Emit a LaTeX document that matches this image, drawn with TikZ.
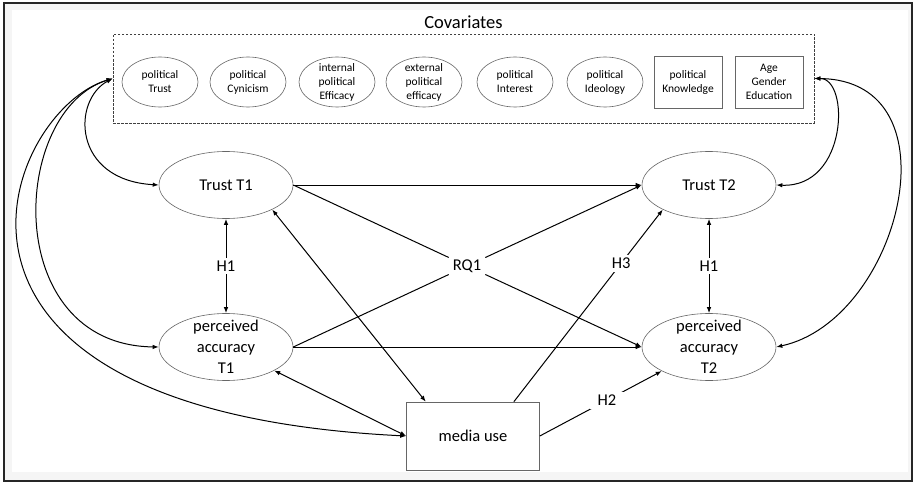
\documentclass[tikz,border=0pt]{standalone}
\usepackage{fontspec}
\setmainfont{Carlito}
\usetikzlibrary{arrows.meta,positioning,shapes.geometric}

\begin{document}
\begin{tikzpicture}[x=1pt,y=-1pt,
>={Latex[length=6pt,width=4.5pt]},
covell/.style={ellipse,draw=black!60,line width=.6pt,minimum width=76pt,minimum height=50pt,inner xsep=0pt,inner ysep=-4pt,align=center,font=\fontsize{11.5}{14}\selectfont},
covrect/.style={rectangle,draw=black!60,line width=.6pt,minimum width=68pt,minimum height=52pt,inner sep=0pt,align=center,font=\fontsize{11.5}{14}\selectfont},
latent/.style={ellipse,draw=black!60,line width=.6pt,minimum width=134pt,minimum height=67pt,inner xsep=0pt,inner ysep=-8pt,align=center,font=\fontsize{16.5}{21}\selectfont},
manifest/.style={rectangle,draw=black!60,line width=.6pt,minimum width=133pt,minimum height=68pt,align=center,font=\fontsize{16.5}{21}\selectfont},
hyp/.style={fill=white,inner sep=3pt,font=\fontsize{16.5}{21}\selectfont},
conn/.style={line width=1pt}]
\useasboundingbox (0,0) rectangle (917,484);
\draw[line width=1.2pt,black!85,fill=black!4] (4,3) rectangle (912,481);
\fill[white] (12,10) rectangle (908,472);

\node[draw=black!75,dash pattern=on 2.5pt off 1.5pt,line width=.7pt,minimum width=701pt,minimum height=89pt] (cov) at (463.5,78.5) {};
\node[font=\fontsize{18.5}{22}\selectfont] (covtitle) at (463.5,22) {Covariates};
\node[covell] (ptrust) at (160,82) {political\\Trust};
\node[covell] (pcyn) at (248,82) {political\\Cynicism};
\node[covell] (ieff) at (337,82) {internal\\political\\Efficacy};
\node[covell] (eeff) at (424,82) {external\\political\\efficacy};
\node[covell] (pint) at (515,82) {political\\Interest};
\node[covell] (pideo) at (605,82) {political\\Ideology};
\node[covrect] (pknow) at (688,82) {political\\Knowledge};
\node[covrect] (demo) at (769,82) {Age\\Gender\\Education};

\node[latent] (T1) at (226,185) {Trust T1};
\node[latent] (PA1) at (226,347) {perceived\\accuracy\\T1};
\node[latent] (T2) at (709,185) {Trust T2};
\node[latent] (PA2) at (709,347) {perceived\\accuracy\\T2};
\node[manifest] (media) at (473,436) {media use};
\node[font=\fontsize{16.5}{21}\selectfont,inner sep=4pt] (RQ1) at (467,266) {RQ1};

\draw[conn,<->] (cov.west) .. controls (72,100) and (72,180) .. (T1.west);
\draw[conn,<->] (cov.west) .. controls (10,110) and (0,345) .. (PA1.west);
\draw[conn,<->] (cov.west) .. controls (5,110) and (-120,410) .. (media.west);
\draw[conn,<->] (cov.east) .. controls (850,78) and (848,188) .. (T2.east);
\draw[conn,<->] (cov.east) .. controls (960,80) and (900,320) .. (PA2.east);

\draw[conn,->] (T1)--(T2);
\draw[conn,->] (PA1)--(PA2);
\draw[conn] (T1.east)--(RQ1);
\draw[conn,->] (RQ1)--(PA2.west);
\draw[conn] (PA1.east)--(RQ1);
\draw[conn,->] (RQ1)--(T2.west);
\draw[conn,<->] (T1)-- node[hyp] (H1a) {H1} (PA1);
\draw[conn,<->] (T2)-- node[hyp] (H1b) {H1} (PA2);
\draw[conn,<->] (T1.-28)--(media.144);
\draw[conn,<->] (PA1.-26)--(media.west);
\draw[conn,->] (media.40)-- node[hyp,pos=.72] (H3) {H3} (T2.208);
\draw[conn,->] (media.east)-- node[hyp,pos=.55,inner xsep=8pt] (H2) {H2} (PA2.207);
\end{tikzpicture}
\end{document}
